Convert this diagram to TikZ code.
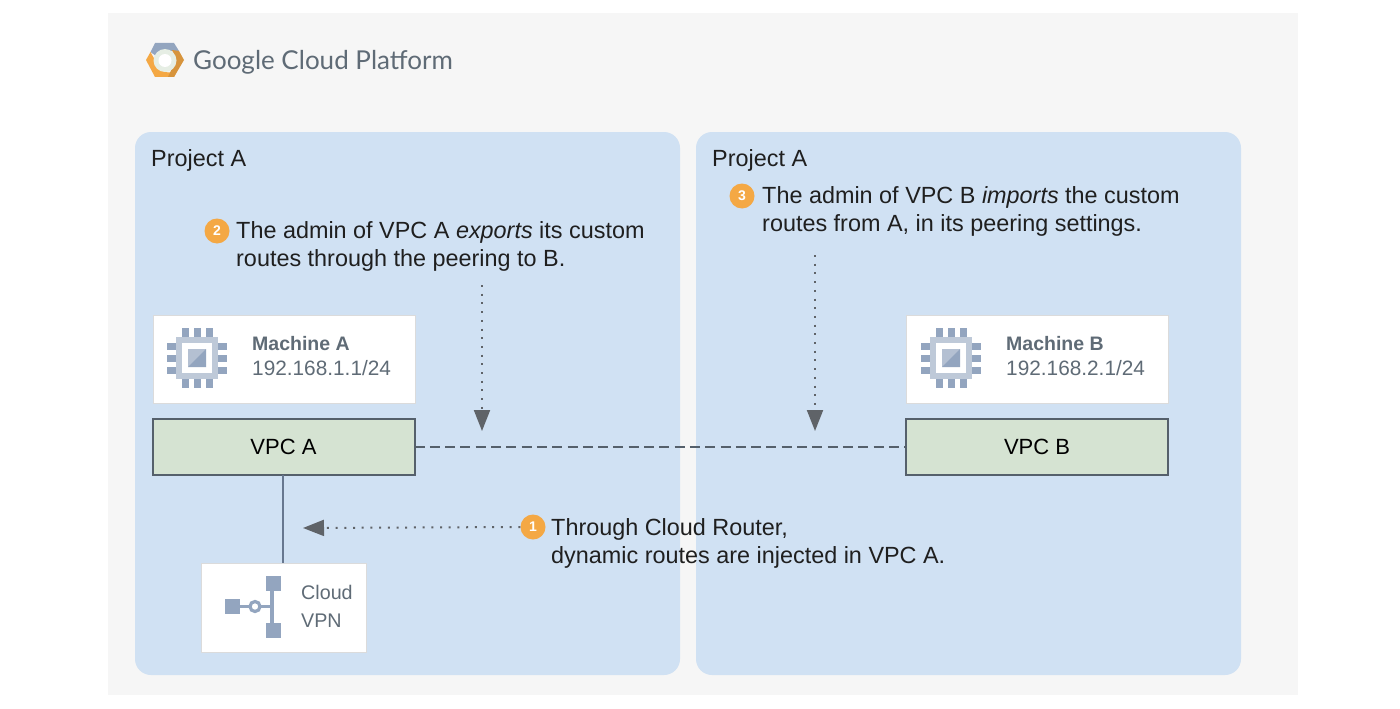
\documentclass[tikz,border=0pt]{standalone}
\usepackage{fontspec}
\setmainfont{Liberation Sans}
\newfontfamily\logofont{Lato}
\usetikzlibrary{arrows.meta,calc}
\definecolor{pagebg}{HTML}{F6F6F6}
\definecolor{panelblue}{HTML}{D0E1F3}
\definecolor{vpcgreen}{HTML}{D5E3D2}
\definecolor{iconblue}{HTML}{93A5BF}
\definecolor{textgrey}{HTML}{5F6B76}
\definecolor{linegrey}{HTML}{5F6368}
\definecolor{badge}{HTML}{F4A844}
\definecolor{edgegrey}{HTML}{55606B}
\definecolor{tubeblue}{HTML}{67778F}
\tikzset{
 x=1pt,y=-1pt,
 panel/.style={fill=panelblue,rounded corners=16pt},
 cardbox/.style={fill=white,draw=black!14,line width=.7pt,anchor=north west,inner sep=0pt,outer sep=0pt},
 vpcbox/.style={fill=vpcgreen,draw=edgegrey,line width=2pt,anchor=north west,inner sep=0pt,outer sep=0pt,minimum width=262pt,minimum height=56pt,font=\fontsize{22}{26}\selectfont,text=black},
 noteline/.style={anchor=north west,inner sep=0pt,align=left,text=black!88,font=\fontsize{23.4}{28.3}\selectfont},
 badgedot/.style={circle,fill=badge,inner sep=0pt,minimum size=25pt,text=white,font=\fontsize{14}{14}\selectfont\bfseries},
 titlelabel/.style={anchor=west,inner sep=0pt,text=textgrey,font=\fontsize{19.5}{24}\selectfont\bfseries},
 addrlabel/.style={anchor=west,inner sep=0pt,text=textgrey,font=\fontsize{20.8}{24}\selectfont},
 vpnlabel/.style={anchor=west,inner sep=0pt,text=textgrey,font=\fontsize{19.7}{24}\selectfont},
 dotarrow/.style={draw=linegrey,line width=2pt,dash pattern=on 2pt off 6.7pt,-{Triangle[length=21pt,width=16pt,fill=linegrey]}},
}
\newcommand{\chipicon}[2]{%
 \begin{scope}[shift={(#1,#2)}]
  \foreach \d in {-12,0,12}{
   \fill[iconblue] (\d-3.5,-30) rectangle (\d+3.5,-20);
   \fill[iconblue] (\d-3.5,20) rectangle (\d+3.5,30);
   \fill[iconblue] (-30,\d-3.5) rectangle (-20,\d+3.5);
   \fill[iconblue] (20,\d-3.5) rectangle (30,\d+3.5);
  }
  \fill[iconblue!60] (-21,-21) rectangle (21,21);
  \fill[white] (-15,-15) rectangle (15,15);
  \fill[iconblue!70] (-9,-9) rectangle (9,9);
  \fill[iconblue] (-9,9) -- (9,-9) -- (9,9) -- cycle;
 \end{scope}}
\begin{document}
\begin{tikzpicture}
\useasboundingbox (0,0) rectangle (1400,709);
\fill[white] (0,0) rectangle (1400,709);
\fill[pagebg] (108,13) rectangle (1298,695);
% logo
\fill[iconblue] (150.5,52) -- (155,43) -- (174,43) -- (179,51) -- (168,51) -- (156,56) -- cycle;
\fill[badge] (146,60) -- (150.5,52) -- (156,62) -- (164,72) -- (176,73) -- (174,77) -- (155,77) -- cycle;
\fill[badge!88!black] (172,50) -- (179,51) -- (184,60) -- (174,77) -- (168,77) -- (176,60) -- cycle;
\fill[vpcgreen!60!white] (165,60.5) circle (11.5);
\fill[white] (165,60.5) circle (6.5);
\node[anchor=west,inner sep=0pt,text=textgrey,font=\logofont\fontsize{26}{30}\selectfont] (logotext) at (193,62) {Google Cloud Platform};
% panels
\fill[panel] (135,132) rectangle (680,675);
\fill[panel] (696,132) rectangle (1241,675);
\node[noteline] (pa) at (151,149) {Project A};
\node[noteline] (pb) at (712,149) {Project A};
% notes
\node[badgedot] (b2) at (217,231) {2};
\node[noteline] (n2) at (236,221) {The admin of VPC A \textit{exports} its custom\\routes through the peering to B.};
\node[badgedot] (b3) at (742,196) {3};
\node[noteline] (n3) at (762,186) {The admin of VPC B \textit{imports} the custom\\routes from A, in its peering settings.};
\node[badgedot] (b1) at (533,527) {1};
\node[noteline] (n1) at (551,518.5) {Through Cloud Router,\\dynamic routes are injected in VPC A.};
% machines
\node[cardbox,minimum width=262pt,minimum height=88pt] (ma) at (153,315) {};
\chipicon{197}{358}
\node[titlelabel] (mat) at (252,344) {Machine A};
\node[addrlabel] (maa) at (252,368) {192.168.1.1/24};
\node[cardbox,minimum width=262pt,minimum height=88pt] (mb) at (906,315) {};
\chipicon{951}{358}
\node[titlelabel] (mbt) at (1006,344) {Machine B};
\node[addrlabel] (mba) at (1006,368) {192.168.2.1/24};
% VPCs
\node[vpcbox] (va) at (152.5,419) {VPC A};
\node[vpcbox] (vb) at (906,419) {VPC B};
\draw[edgegrey,line width=1.8pt,dash pattern=on 10pt off 5.3pt] (va.east) -- (vb.west);
% VPN
\node[cardbox,minimum width=165pt,minimum height=89pt] (vpn) at (201,563) {};
\draw[tubeblue,line width=2.2pt] (283,475) -- (vpn.north -| 283,475);
\begin{scope}
 \fill[iconblue] (225,599) rectangle (240,614);
 \fill[iconblue] (266,576) rectangle (281,591);
 \fill[iconblue] (266,623) rectangle (281,638);
 \draw[iconblue,line width=4pt] (272,590) -- (272,624);
 \draw[iconblue,line width=3.2pt] (240,606.5) -- (272,606.5);
 \draw[iconblue,line width=3.2pt,fill=white] (255,606.5) circle (5);
\end{scope}
\node[vpnlabel] (vt1) at (301,592) {Cloud};
\node[vpnlabel] (vt2) at (301,621) {VPN};
% dotted arrows
\coordinate (t2) at (482,285);
\coordinate (h2) at (482,431);
\coordinate (t3) at (815,255);
\coordinate (h3) at (815,431);
\coordinate (h1) at (303,528);
\draw[dotarrow] (t2) -- (h2);
\draw[dotarrow] (t3) -- (h3);
\draw[dotarrow] (b1.west) -- (h1);
\end{tikzpicture}
\end{document}
